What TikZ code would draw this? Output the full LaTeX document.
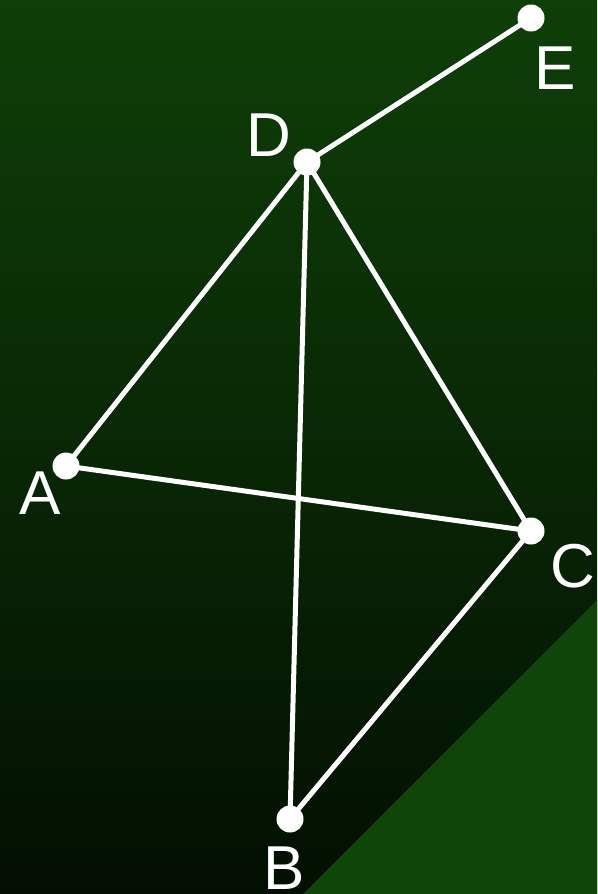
\documentclass[tikz,border=0pt]{standalone}
\usepackage{fontspec}
\setmainfont{Liberation Sans}
\usepackage{tikz}
\usetikzlibrary{positioning, calc}

\definecolor{bgtop}{HTML}{0E3F07}
\definecolor{bgbottom}{HTML}{030F02}
\definecolor{corner}{HTML}{10450A}

\begin{document}
\begin{tikzpicture}[
        x=1pt, y=-1pt,
        dot/.style={circle, fill=white, draw=none, minimum size=27pt, inner sep=0pt},
        lbl/.style={text=white, font=\fontsize{62}{62}\selectfont, inner sep=0pt},
        edge/.style={draw=white, line width=5pt}
    ]
        % Background
        \useasboundingbox (0,0) rectangle (597,894);
        \shade[top color=bgtop, bottom color=bgbottom] (0,0) rectangle (597,894);
        \fill[corner] (597,600) -- (303,894) -- (597,894) -- cycle;
    
        % Points
        \node (A) [dot] at (66,466) {};
        \node (B) [dot] at (290,819) {};
        \node (C) [dot] at (531,531) {};
        \node (D) [dot] at (307,162) {};
        \node (E) [dot] at (531,18) {};
    
        % Labels
        \node (labA) [lbl] at (40,493) {A};
        \node (labB) [lbl] at (284,868) {B};
        \node (labC) [lbl] at (573,566) {C};
        \node (labD) [lbl] at (269,135) {D};
        \node (labE) [lbl] at (555,68) {E};
    
        % Edges
        \draw [edge] (A.center) -- (D.center);
        \draw [edge] (A.center) -- (C.center);
        \draw [edge] (D.center) -- (C.center);
        \draw [edge] (D.center) -- (B.center);
        \draw [edge] (B.center) -- (C.center);
        \draw [edge] (D.center) -- (E.center);
    \end{tikzpicture}
\end{document}
